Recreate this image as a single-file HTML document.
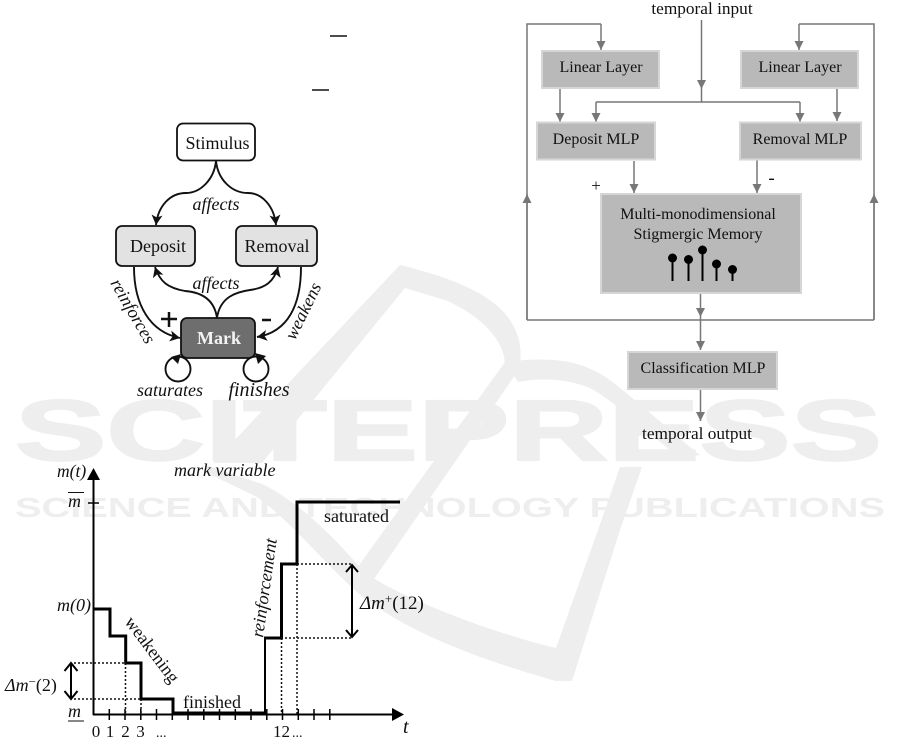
<!DOCTYPE html>
<html><head><meta charset="utf-8"><style>
html,body{margin:0;padding:0;background:#fff}
svg{display:block}
text{font-family:"Liberation Serif",serif;fill:#111}
.i{font-style:italic}
.bx{fill:#b9b9b9;stroke:#d6d6d6;stroke-width:2}
.g{stroke:#777;stroke-width:1.5;fill:none}
.k{stroke:#111;stroke-width:1.9;fill:none}
.d{stroke:#111;stroke-width:1.5;stroke-dasharray:2 2;fill:none}
.s{stroke:#000;stroke-width:3;fill:none}
.wm{fill:#eeeeee;stroke:none}
</style></head><body>
<svg width="901" height="742" viewBox="0 0 901 742" xmlns="http://www.w3.org/2000/svg">
<defs>
<marker id="ga" markerUnits="userSpaceOnUse" markerWidth="10" markerHeight="10" refX="9" refY="4.500" orient="auto"><path d="M0 0L9 4.500L0 9z" fill="#777"/></marker>
<marker id="ka" markerUnits="userSpaceOnUse" markerWidth="12" markerHeight="12" refX="10" refY="5.500" orient="auto"><path d="M0 0L10 5.500L0 11L2.500 5.500z" fill="#111"/></marker>
</defs>
<!-- watermark -->
<g>
<path class="wm" d="M400 265L405 288L262 463H213z"/>
<path class="wm" d="M400 265C440 275 490 290 510 320C520 335 522 350 520 365L505 365C505 340 480 315 445 300L405 288z"/>
<path class="wm" d="M505 362L520 368L372 582L352 575z"/>
<path class="wm" d="M505 362C560 355 590 362 620 388C650 412 675 435 700 455L680 458C650 435 620 405 590 388C565 378 540 378 518 382z"/>
<path class="wm" d="M205 465L262 484C285 495 310 515 333 538C350 555 360 570 380 582C420 605 500 635 556 648L598 530L620 467H642L620 530L572 681H556C500 665 420 640 364 598C330 570 290 520 257 497L205 472z"/>
<text x="15" y="460" font-size="86" font-weight="bold" textLength="867" lengthAdjust="spacingAndGlyphs" style="font-family:'Liberation Sans',sans-serif;fill:#eeeeee;stroke:#eeeeee;stroke-width:2">SCITEPRESS</text>
<text x="15" y="517" font-size="28" font-weight="bold" textLength="870" lengthAdjust="spacingAndGlyphs" style="font-family:'Liberation Sans',sans-serif;fill:#eeeeee">SCIENCE AND TECHNOLOGY PUBLICATIONS</text>
</g>
<!-- overlines -->
<path d="M330 36H347M312 90H329" stroke="#111" stroke-width="1.400"/>
<!-- state diagram -->
<rect x="177" y="123.500" width="78" height="37" rx="6" fill="#fff" stroke="#111" stroke-width="1.800"/>
<text x="217.500" y="149" font-size="18" text-anchor="middle">Stimulus</text>
<rect x="116" y="226" width="79" height="40" rx="6" fill="#e2e2e2" stroke="#111" stroke-width="1.800"/>
<text x="158" y="252" font-size="18" text-anchor="middle">Deposit</text>
<rect x="236" y="226" width="81" height="40" rx="6" fill="#e2e2e2" stroke="#111" stroke-width="1.800"/>
<text x="277" y="252" font-size="18" text-anchor="middle">Removal</text>
<path class="k" marker-end="url(#ka)" d="M216 161C214 180 200 193 186 193C170 193 158 206 156 225"/>
<path class="k" marker-end="url(#ka)" d="M216 161C218 180 232 193 248 193C262 193 274 206 276 225"/>
<path class="k" marker-end="url(#ka)" d="M217 318C214 297 198 292 185 291C168 288 160 282 155 267"/>
<path class="k" marker-end="url(#ka)" d="M217 318C220 297 236 292 250 290C265 288 274 282 278 267"/>
<path class="k" marker-end="url(#ka)" d="M134 267C134 305 150 332 180 338"/>
<path class="k" marker-end="url(#ka)" d="M301 267C301 305 288 332 257 337"/>
<rect x="181" y="318" width="74" height="40" rx="6" fill="#6e6e6e" stroke="#111" stroke-width="1.800"/>
<text x="219" y="344" font-size="18" font-weight="bold" text-anchor="middle" style="fill:#f4f4f4">Mark</text>
<circle cx="178" cy="369" r="12.500" fill="none" stroke="#111" stroke-width="1.900"/>
<circle cx="256" cy="369" r="12.500" fill="none" stroke="#111" stroke-width="1.900"/>
<path d="M181 354L171 357L178 364z" fill="#111"/>
<path d="M255 353L266 356L258 364z" fill="#111"/>
<text x="216" y="210" class="i" font-size="18" text-anchor="middle">affects</text>
<text x="216" y="289" class="i" font-size="18" text-anchor="middle">affects</text>
<text x="170" y="396" class="i" font-size="18" text-anchor="middle">saturates</text>
<text x="259" y="396" class="i" font-size="20" text-anchor="middle">finishes</text>
<text transform="translate(110,283) rotate(60)" class="i" font-size="18">reinforces</text>
<text transform="translate(295,341) rotate(-64)" class="i" font-size="18">weakens</text>
<path d="M161 319H177M169 312V327M262 320H271" stroke="#111" stroke-width="2.500" fill="none"/>
<!-- chart -->
<path d="M93.500 715V474" stroke="#000" stroke-width="2"/>
<path d="M87 480L93.500 468L100 480z" fill="#000"/>
<path d="M93 714.500H396" stroke="#000" stroke-width="2"/>
<path d="M392 708L404 714.500L392 721z" fill="#000"/>
<path d="M88 503H99" stroke="#000" stroke-width="1.500"/>
<path stroke="#000" stroke-width="1.500" d="M109.300 709V720M125 709V720M140.800 709V720M156.500 709V720M172.300 709V720M188 709V720M203.800 709V720M219.500 709V720M235.300 709V720M251 709V720M266.800 709V720M282.500 709V720M298.300 709V720M314 709V720M329.800 709V720"/>
<path class="s" d="M93 609H110V636H125.700V663H141V699H173V713H265"/>
<path d="M265 714V638" stroke="#000" stroke-width="2" fill="none"/>
<path class="s" d="M264 638H281.500V564H297V502H400"/>
<path class="d" d="M74 663H125.500M74 699H141M125.500 663V715M141 699V715M281.500 638V715M297 564V715M281 638H352M297 564H352"/>
<path d="M71 663V699M352 565V637" stroke="#000" stroke-width="2"/>
<path d="M64.500 671L71 663L77.500 671M64.500 691L71 699L77.500 691M346 572L352 565L358 572M346 630L352 637L358 630" stroke="#000" stroke-width="2" fill="none"/>
<text x="57" y="477" class="i" font-size="17.500">m(t)</text>
<text x="68" y="507" class="i" font-size="18">m</text>
<path d="M68 492.500H84M68 721H84" stroke="#111" stroke-width="1"/>
<text x="57" y="611" class="i" font-size="18">m(0)</text>
<text x="68" y="717" class="i" font-size="18">m</text>
<text x="174" y="476" class="i" font-size="18">mark variable</text>
<text x="5" y="691" font-size="18"><tspan class="i">Δm</tspan><tspan font-size="13" dy="-5">−</tspan><tspan dy="5">(2)</tspan></text>
<text x="96" y="737" font-size="17" text-anchor="middle">0</text>
<text x="110" y="737" font-size="17" text-anchor="middle">1</text>
<text x="125.500" y="737" font-size="17" text-anchor="middle">2</text>
<text x="140.500" y="737" font-size="17" text-anchor="middle">3</text>
<text x="156" y="737" font-size="14">...</text>
<text x="273" y="737" font-size="17">12</text>
<text x="292" y="737" font-size="14">...</text>
<text x="403" y="733" class="i" font-size="20">t</text>
<text x="183" y="708" font-size="18">finished</text>
<text x="324" y="522" font-size="18">saturated</text>
<text x="360" y="609" font-size="19"><tspan class="i">Δm</tspan><tspan font-size="13" dy="-6">+</tspan><tspan dy="6">(12)</tspan></text>
<text transform="translate(124,622) rotate(53)" font-size="18">weakening</text>
<text transform="translate(263,638) rotate(-82)" class="i" font-size="18">reinforcement</text>
<!-- network -->
<text x="702" y="14" font-size="17.300" text-anchor="middle">temporal input</text>
<path class="g" d="M527 320V24H601" />
<path class="g" marker-end="url(#ga)" d="M601 24V50"/>
<path class="g" d="M874 320V24H799"/>
<path class="g" marker-end="url(#ga)" d="M799 24V50"/>
<path class="g" marker-end="url(#ga)" d="M527 320V194"/>
<path class="g" marker-end="url(#ga)" d="M874 320V194"/>
<path class="g" d="M527 320H874"/>
<path class="g" marker-end="url(#ga)" d="M701.500 20V89"/>
<path class="g" d="M701.500 89V102M596 102H800"/>
<path class="g" marker-end="url(#ga)" d="M596 102V122"/>
<path class="g" marker-end="url(#ga)" d="M800 102V122"/>
<path class="g" marker-end="url(#ga)" d="M560 89V122"/>
<path class="g" marker-end="url(#ga)" d="M837 88V121"/>
<path class="g" marker-end="url(#ga)" d="M634 161V193"/>
<path class="g" marker-end="url(#ga)" d="M757 160V193"/>
<path class="g" marker-end="url(#ga)" d="M700.500 294V317"/>
<path class="g" marker-end="url(#ga)" d="M700.500 317V350"/>
<path class="g" marker-end="url(#ga)" d="M700.500 389V421"/>
<rect class="bx" x="542" y="51" width="117" height="37"/>
<rect class="bx" x="741" y="51" width="117" height="37"/>
<rect class="bx" x="537" y="122.500" width="118" height="37"/>
<rect class="bx" x="740" y="122.500" width="121" height="37"/>
<rect class="bx" x="601" y="194" width="200" height="99"/>
<rect class="bx" x="628" y="352" width="149" height="37"/>
<text x="601" y="72" font-size="16" text-anchor="middle">Linear Layer</text>
<text x="800" y="72" font-size="16" text-anchor="middle">Linear Layer</text>
<text x="596" y="144" font-size="16" text-anchor="middle">Deposit MLP</text>
<text x="800" y="144" font-size="16" text-anchor="middle">Removal MLP</text>
<text x="698" y="219" font-size="16" text-anchor="middle">Multi-monodimensional</text>
<text x="698" y="239" font-size="16" text-anchor="middle">Stigmergic Memory</text>
<text x="703" y="373" font-size="16" text-anchor="middle">Classification MLP</text>
<text x="697" y="439" font-size="17.300" text-anchor="middle">temporal output</text>
<text x="596" y="191" font-size="17" text-anchor="middle">+</text>
<text x="771.500" y="184" font-size="19" text-anchor="middle">-</text>
<g fill="#000" stroke="#000">
<circle cx="672.500" cy="258" r="4" stroke-width="1"/><path d="M672.500 258V281" stroke-width="2"/>
<circle cx="688.500" cy="259.500" r="4" stroke-width="1"/><path d="M688.500 260V281" stroke-width="2"/>
<circle cx="702.500" cy="250" r="4" stroke-width="1"/><path d="M702.500 250V281" stroke-width="2"/>
<circle cx="716.500" cy="264" r="4" stroke-width="1"/><path d="M716.500 264V281" stroke-width="2"/>
<circle cx="732.500" cy="269.500" r="4" stroke-width="1"/><path d="M732.500 270V281" stroke-width="2"/>
</g>
</svg>
</body></html>
